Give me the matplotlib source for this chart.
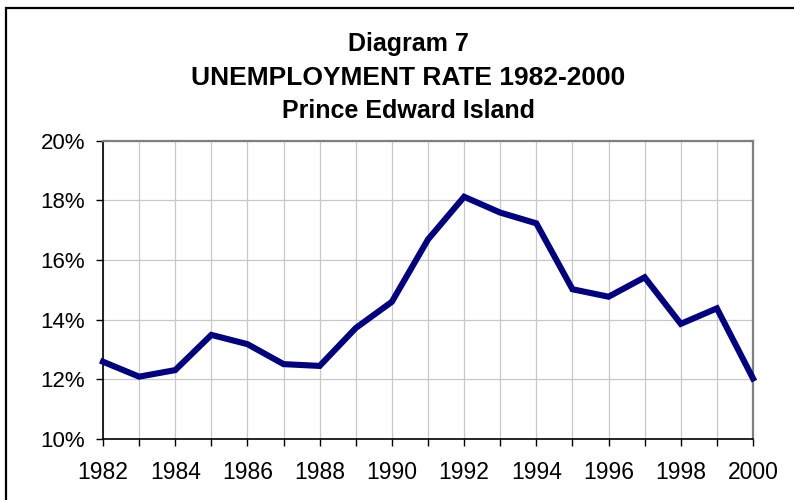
import matplotlib
matplotlib.use("Agg")
import matplotlib.pyplot as plt
from matplotlib.ticker import FuncFormatter, MultipleLocator
from matplotlib.patches import Rectangle

plt.rcParams['font.family'] = ['Liberation Sans', 'DejaVu Sans']

years = list(range(1982, 2001))
rate = [12.59, 12.09, 12.31, 13.49, 13.18, 12.51, 12.45, 13.72, 14.60, 16.69,
        18.12, 17.59, 17.23, 15.02, 14.77, 15.42, 13.86, 14.38, 12.03]

fig = plt.figure(figsize=(7.94, 5.0), dpi=100)
ax = fig.add_axes([103 / 794, 1 - 439 / 500, 650 / 794, 298.3 / 500])

# outer frame (cropped at right/bottom in the reference)
fig.patches.append(Rectangle((6 / 794, -0.1), 1.2, 1 - 8 / 500 + 0.1, transform=fig.transFigure,
                             fill=False, edgecolor='black', linewidth=1.6, zorder=0))

ax.plot(years, rate, color='#000080', linewidth=4.4, solid_joinstyle='miter', clip_on=False, zorder=3)

ax.set_xlim(1982, 2000)
ax.set_ylim(10, 20)
ax.xaxis.set_major_locator(MultipleLocator(2))
ax.xaxis.set_minor_locator(MultipleLocator(1))
ax.yaxis.set_major_locator(MultipleLocator(2))
ax.yaxis.set_major_formatter(FuncFormatter(lambda v, p: f"{v:.0f}%"))

ax.grid(True, which='both', axis='x', color='#c8c8c8', linewidth=0.9)
ax.grid(True, which='major', axis='y', color='#c8c8c8', linewidth=0.9)
ax.set_axisbelow(True)

ax.tick_params(axis='x', which='both', direction='out', length=5, width=1, color='black',
               labelsize=16.5, pad=11)
ax.tick_params(axis='x', which='minor', labelbottom=False)
ax.tick_params(axis='y', direction='out', length=5, width=1, color='black', labelsize=16, pad=8)

ax.spines['left'].set_color('black')
ax.spines['bottom'].set_color('black')
ax.spines['left'].set_linewidth(1.2)
ax.spines['bottom'].set_linewidth(1.2)
ax.spines['top'].set_color('#808080')
ax.spines['right'].set_color('#808080')
ax.spines['top'].set_linewidth(1.6)
ax.spines['right'].set_linewidth(1.6)

cx = 408 / 794
fig.text(cx, 1 - 44 / 500, "Diagram 7", ha='center', va='center', fontsize=18, fontweight='bold')
fig.text(cx, 1 - 78 / 500, "UNEMPLOYMENT RATE 1982-2000", ha='center', va='center',
         fontsize=19, fontweight='bold')
fig.text(cx, 1 - 111 / 500, "Prince Edward Island", ha='center', va='center',
         fontsize=18, fontweight='bold')

fig.savefig("out.png", dpi=100)
